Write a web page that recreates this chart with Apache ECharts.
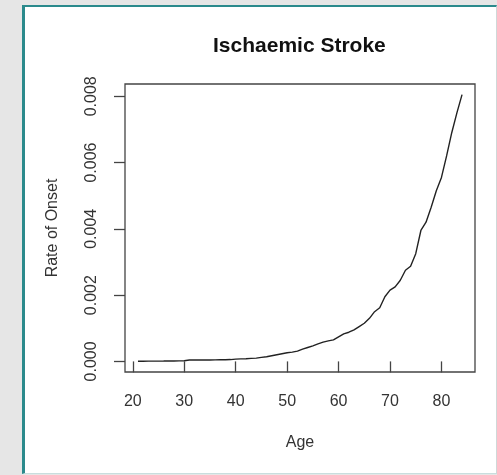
<!DOCTYPE html>
<html>
<head>
<meta charset="utf-8">
<script src="https://cdn.jsdelivr.net/npm/echarts@6/dist/echarts.min.js"></script>
<style>
  html, body { margin: 0; padding: 0; background: #e6e6e6; }
  #panel {
    position: absolute; left: 22px; top: 5px; width: 471px; height: 466px;
    background: #fff;
    border-left: 3px solid #2b8a8c; border-top: 2px solid #2b8a8c;
    border-right: 1px solid #cfd8d8; border-bottom: 1px solid #c8dede;
  }
  #chart { position: absolute; left: 0; top: 0; width: 497px; height: 475px; }
</style>
</head>
<body>
<div id="panel"></div>
<div id="chart"></div>
<script>
// 年龄（岁）
const ages = [];
for (let a = 21; a <= 84; a++) ages.push(a);

// 发病率
const rates = [
  0.000005, 0.000006, 0.000007, 0.000008, 0.000009, 0.00001, 0.000012, 0.000014, 0.000016, 0.00002, // 21-30
  0.00004, 0.00004, 0.00004, 0.000042, 0.000044, 0.000046, 0.000048, 0.00005, 0.000055,               // 31-39
  0.00007, 0.000075, 0.00008, 0.00009, 0.0001, 0.00012, 0.00014, 0.00017, 0.0002, 0.00023,           // 40-49
  0.00026, 0.00028, 0.00031, 0.00037, 0.00042, 0.00047, 0.00053, 0.00058, 0.00062, 0.00065,          // 50-59
  0.00074, 0.00083, 0.00088, 0.00095, 0.00105, 0.00115, 0.0013, 0.0015, 0.00162, 0.00195,            // 60-69
  0.00215, 0.00225, 0.00245, 0.00275, 0.00287, 0.00325, 0.00395, 0.0042, 0.00465, 0.00515,           // 70-79
  0.00555, 0.0062, 0.0069, 0.0075, 0.00805                                                          // 80-84
];

const xTicks = [20, 30, 40, 50, 60, 70, 80];
const yTicks = [0, 0.002, 0.004, 0.006, 0.008];

const chart = echarts.init(document.getElementById('chart'));
const font = 'Liberation Sans, Arial, sans-serif';

chart.setOption({
  backgroundColor: 'transparent',
  animation: false,
  title: {
    text: 'Ischaemic Stroke',
    left: 208, top: 31,
    textStyle: { fontFamily: font, fontSize: 21, fontWeight: 'bold', color: '#111' }
  },
  grid: {
    left: 125, top: 84, width: 350, height: 288,
    show: true, borderColor: '#444', borderWidth: 1.3, backgroundColor: 'transparent'
  },
  xAxis: {
    type: 'value',
    min: 18.48, max: 86.52,
    name: 'Age', nameLocation: 'middle', nameGap: 63,
    nameTextStyle: { fontFamily: font, fontSize: 16, color: '#333' },
    axisLine: { show: false },
    axisTick: { show: true, inside: false, length: 11, customValues: xTicks, lineStyle: { color: '#444', width: 1.3 } },
    axisLabel: { customValues: xTicks, margin: 22, fontFamily: font, fontSize: 16, color: '#333' },
    splitLine: { show: false }
  },
  yAxis: {
    type: 'value',
    min: -0.00032, max: 0.00837,
    name: 'Rate of Onset', nameLocation: 'middle', nameGap: 64, nameRotate: 90,
    nameTextStyle: { fontFamily: font, fontSize: 16, color: '#333' },
    axisLine: { show: false },
    axisTick: { show: true, inside: false, length: 11, customValues: yTicks, lineStyle: { color: '#444', width: 1.3 } },
    axisLabel: {
      customValues: yTicks, rotate: 90, margin: 25,
      fontFamily: font, fontSize: 16, color: '#333',
      formatter: v => v.toFixed(3)
    },
    splitLine: { show: false }
  },
  series: [{
    type: 'line',
    data: ages.map((a, i) => [a, rates[i]]),
    showSymbol: false,
    lineStyle: { color: '#222', width: 1.4 }
  }]
});
</script>
</body>
</html>
